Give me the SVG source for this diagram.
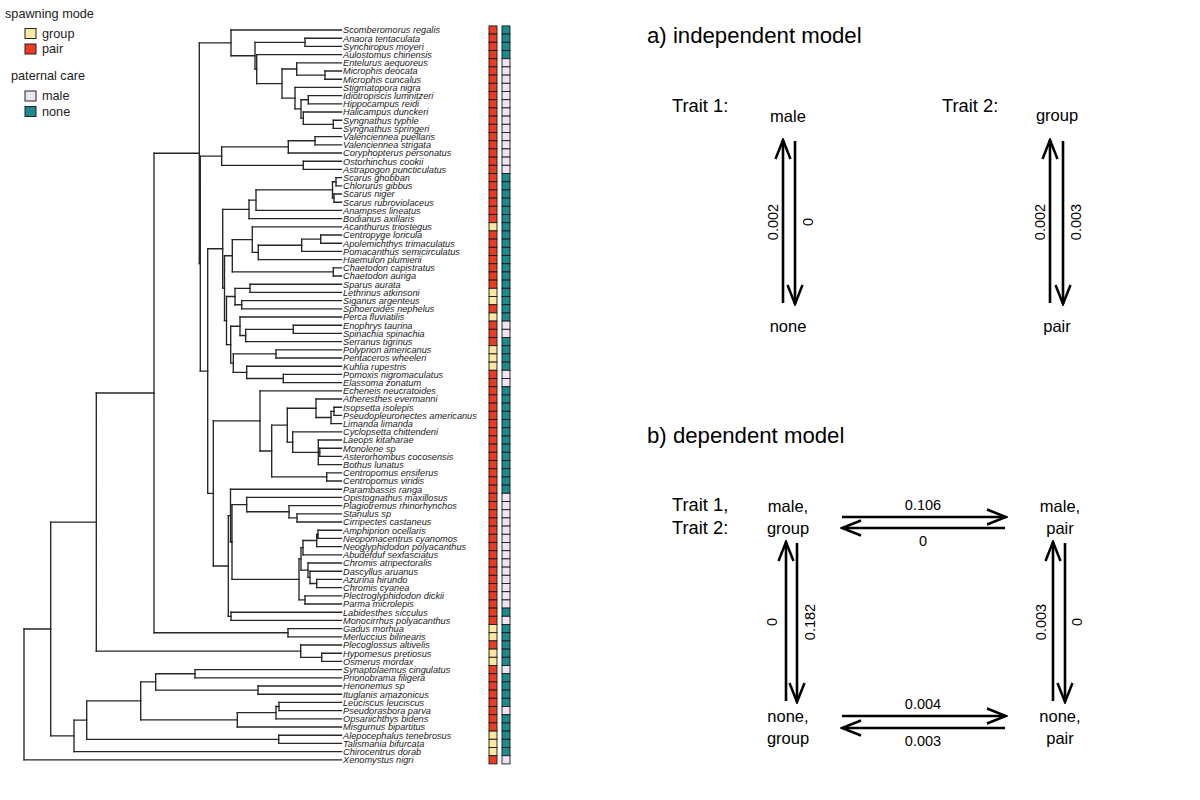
<svg xmlns="http://www.w3.org/2000/svg" width="1200" height="800" viewBox="0 0 1200 800">
<style>
.br{fill:none;stroke:#262626;stroke-width:1.35;stroke-linecap:square}
.sp{font-family:"Liberation Sans",Arial,sans-serif;font-style:italic;font-size:9.2px;fill:#1a1a1a}
.sq rect{stroke:#1a1a1a;stroke-width:0.9}
.p{fill:#EC3B22}.g{fill:#FBE7A1}.m{fill:#EEE4F2}.n{fill:#1D8A8E}
.lg{font-family:"Liberation Sans",Arial,sans-serif;font-size:12.7px;fill:#222}
.st{font-family:"Liberation Sans",Arial,sans-serif;font-size:16.5px;fill:#000;text-anchor:middle}
.tr{font-family:"Liberation Sans",Arial,sans-serif;font-size:18.3px;fill:#000}
.hd{font-family:"Liberation Sans",Arial,sans-serif;font-size:22.2px;fill:#000}
.nm{font-family:"Liberation Sans",Arial,sans-serif;font-size:14.5px;fill:#000;text-anchor:middle}
.ar{stroke:#000;stroke-width:2.6;fill:none;marker-end:url(#ah)}
</style>
<defs>
<marker id="ah" viewBox="-22 -10 24 20" refX="0" refY="0" markerWidth="24" markerHeight="20" markerUnits="userSpaceOnUse" orient="auto">
<path d="M-19,-7.5 L0,0 L-19,7.5" fill="none" stroke="#000" stroke-width="2.5"/>
</marker>
</defs>
<rect width="1200" height="800" fill="#fff"/>

<g id="legend">
<text class="lg" x="5" y="17.5">spawning mode</text>
<rect class="g" x="25" y="28.5" width="11" height="10" stroke="#222" stroke-width="1"/>
<text class="lg" x="42" y="37.5">group</text>
<rect class="p" x="25" y="44" width="11" height="10" stroke="#222" stroke-width="1"/>
<text class="lg" x="42" y="53">pair</text>
<text class="lg" x="11" y="79.5">paternal care</text>
<rect class="m" x="25" y="91" width="11" height="10" stroke="#222" stroke-width="1"/>
<text class="lg" x="42" y="100">male</text>
<rect class="n" x="25" y="106.5" width="11" height="10" stroke="#222" stroke-width="1"/>
<text class="lg" x="42" y="115.5">none</text>
</g>

<g id="tree-branches">
<path class="br" d="M231 30V55.7 M255 42.3V69.1 M305 38.2V46.4 M256.7 54.6V83.55 M282 68.95V98.15 M296.7 62.8V75.1 M325 71V79.2 M295 87.4V108.9 M301 99.7V118.15 M308.3 95.6V103.8 M303.3 112V124.3 M333.3 120.2V128.4 M221.7 146.85V165.3 M288.3 140.7V153 M315 136.6V144.8 M303.3 161.2V169.4 M249 200.15V218.6 M256 189.9V210.4 M332.5 181.7V198.1 M336 177.6V185.8 M334 194V202.2 M232.3 239.6V271.9 M252.3 226.8V252.43 M258.3 245.25V259.6 M301.7 239.1V251.4 M320.7 235V243.2 M333.3 267.8V276 M222.7 209.38V288.17 M224.5 255.75V320.59 M226.5 296.5V344.68 M235 288.3V304.7 M250 284.2V292.4 M241.7 300.6V308.8 M230.7 326.23V363.13 M240 317V335.45 M245.7 329.3V341.6 M293.3 325.2V333.4 M233.3 353.9V372.35 M276 349.8V358 M246.7 366.2V378.5 M283.3 374.4V382.6 M260 390.8V451.02 M271.7 425.14V476.9 M287.3 408.23V442.05 M316 399V417.45 M331 411.3V423.6 M334 407.2V415.4 M292.7 431.8V452.3 M318.3 440V464.6 M319.8 448.2V456.4 M326.7 472.8V481 M228.3 515.6V616.3 M230.5 489.2V541.99 M232 504.58V579.4 M246.7 497.4V511.75 M289 505.6V517.9 M297 513.8V522 M299 558.9V599.9 M301 547.63V570.18 M303 540.45V554.8 M316.7 534.3V546.6 M318 530.2V538.4 M308 563V577.35 M310 571.2V583.5 M316.7 579.4V587.6 M305 595.8V604 M231 612.2V620.4 M213.3 420.91V565.95 M207.7 248.78V493.43 M200.3 156.08V371.1 M199.3 42.85V263.59 M154 153.22V632.7 M288 628.6V636.8 M96.3 392.96V651.15 M300.7 645V657.3 M321.7 653.2V661.4 M50.7 522.06V735.84 M74 720.08V751.6 M86.7 700.86V739.3 M278.7 735.2V743.4 M140.7 681.9V719.83 M155.7 673.7V690.1 M195 669.6V677.8 M258 686V694.2 M237.3 712.65V727 M276 706.5V718.8 M279 702.4V710.6 M24 628.95V759.8"/>
<path class="br" d="M231 55.7H255 M255 42.3H305 M255 69.1H256.7 M256.7 83.55H282 M282 68.95H296.7 M282 98.15H295 M296.7 75.1H325 M295 108.9H301 M301 99.7H308.3 M301 118.15H303.3 M303.3 124.3H333.3 M221.7 146.85H288.3 M221.7 165.3H303.3 M288.3 140.7H315 M249 200.15H256 M256 189.9H332.5 M332.5 181.7H336 M332.5 198.1H334 M232.3 239.6H252.3 M232.3 271.9H333.3 M252.3 252.43H258.3 M258.3 245.25H301.7 M301.7 239.1H320.7 M222.7 209.38H249 M222.7 288.17H224.5 M224.5 255.75H232.3 M224.5 320.59H226.5 M226.5 296.5H235 M226.5 344.68H230.7 M235 288.3H250 M235 304.7H241.7 M230.7 326.23H240 M230.7 363.13H233.3 M240 335.45H245.7 M245.7 329.3H293.3 M233.3 353.9H276 M233.3 372.35H246.7 M246.7 378.5H283.3 M260 451.02H271.7 M271.7 425.14H287.3 M271.7 476.9H326.7 M287.3 408.23H316 M287.3 442.05H292.7 M316 417.45H331 M331 411.3H334 M292.7 452.3H319.8 M228.3 515.6H230.5 M228.3 616.3H231 M230.5 541.99H232 M232 504.58H246.7 M232 579.4H299 M246.7 511.75H289 M289 517.9H297 M299 558.9H301 M299 599.9H305 M301 547.63H303 M301 570.18H308 M303 540.45H316.7 M316.7 534.3H318 M308 577.35H310 M310 583.5H316.7 M213.3 420.91H260 M213.3 565.95H228.3 M207.7 248.78H222.7 M207.7 493.43H213.3 M200.3 156.08H221.7 M200.3 371.1H207.7 M199.3 42.85H231 M199.3 263.59H200.3 M154 153.22H199.3 M154 632.7H288 M96.3 392.96H154 M96.3 651.15H300.7 M300.7 657.3H321.7 M50.7 522.06H96.3 M50.7 735.84H74 M74 720.08H86.7 M86.7 700.86H140.7 M86.7 739.3H278.7 M140.7 681.9H155.7 M140.7 719.83H237.3 M155.7 673.7H195 M155.7 690.1H258 M237.3 712.65H276 M276 706.5H279 M24 628.95H50.7"/>
<path class="br" d="M231 30H341.5 M305 38.2H341.5 M305 46.4H341.5 M256.7 54.6H341.5 M296.7 62.8H341.5 M325 71H341.5 M325 79.2H341.5 M295 87.4H341.5 M308.3 95.6H341.5 M308.3 103.8H341.5 M303.3 112H341.5 M333.3 120.2H341.5 M333.3 128.4H341.5 M315 136.6H341.5 M315 144.8H341.5 M288.3 153H341.5 M303.3 161.2H341.5 M303.3 169.4H341.5 M336 177.6H341.5 M336 185.8H341.5 M334 194H341.5 M334 202.2H341.5 M256 210.4H341.5 M249 218.6H341.5 M252.3 226.8H341.5 M320.7 235H341.5 M320.7 243.2H341.5 M301.7 251.4H341.5 M258.3 259.6H341.5 M333.3 267.8H341.5 M333.3 276H341.5 M250 284.2H341.5 M250 292.4H341.5 M241.7 300.6H341.5 M241.7 308.8H341.5 M240 317H341.5 M293.3 325.2H341.5 M293.3 333.4H341.5 M245.7 341.6H341.5 M276 349.8H341.5 M276 358H341.5 M246.7 366.2H341.5 M283.3 374.4H341.5 M283.3 382.6H341.5 M260 390.8H341.5 M316 399H341.5 M334 407.2H341.5 M334 415.4H341.5 M331 423.6H341.5 M292.7 431.8H341.5 M318.3 440H341.5 M319.8 448.2H341.5 M319.8 456.4H341.5 M318.3 464.6H341.5 M326.7 472.8H341.5 M326.7 481H341.5 M230.5 489.2H341.5 M246.7 497.4H341.5 M289 505.6H341.5 M297 513.8H341.5 M297 522H341.5 M318 530.2H341.5 M318 538.4H341.5 M316.7 546.6H341.5 M303 554.8H341.5 M308 563H341.5 M310 571.2H341.5 M316.7 579.4H341.5 M316.7 587.6H341.5 M305 595.8H341.5 M305 604H341.5 M231 612.2H341.5 M231 620.4H341.5 M288 628.6H341.5 M288 636.8H341.5 M300.7 645H341.5 M321.7 653.2H341.5 M321.7 661.4H341.5 M195 669.6H341.5 M195 677.8H341.5 M258 686H341.5 M258 694.2H341.5 M279 702.4H341.5 M279 710.6H341.5 M276 718.8H341.5 M237.3 727H341.5 M278.7 735.2H341.5 M278.7 743.4H341.5 M74 751.6H341.5 M24 759.8H341.5"/>
</g>

<g id="tip-labels" class="sp">
<text x="343" y="33.3">Scomberomorus regalis</text>
<text x="343" y="41.5">Anaora tentaculata</text>
<text x="343" y="49.7">Synchiropus moyeri</text>
<text x="343" y="57.9">Aulostomus chinensis</text>
<text x="343" y="66.1">Entelurus aequoreus</text>
<text x="343" y="74.3">Microphis deocata</text>
<text x="343" y="82.5">Microphis cuncalus</text>
<text x="343" y="90.7">Stigmatopora nigra</text>
<text x="343" y="98.9">Idiotropiscis lumnitzeri</text>
<text x="343" y="107.1">Hippocampus reidi</text>
<text x="343" y="115.3">Halicampus dunckeri</text>
<text x="343" y="123.5">Syngnathus typhle</text>
<text x="343" y="131.7">Syngnathus springeri</text>
<text x="343" y="139.9">Valenciennea puellaris</text>
<text x="343" y="148.1">Valenciennea strigata</text>
<text x="343" y="156.3">Coryphopterus personatus</text>
<text x="343" y="164.5">Ostorhinchus cookii</text>
<text x="343" y="172.7">Astrapogon puncticulatus</text>
<text x="343" y="180.9">Scarus ghobban</text>
<text x="343" y="189.1">Chlorurus gibbus</text>
<text x="343" y="197.3">Scarus niger</text>
<text x="343" y="205.5">Scarus rubroviolaceus</text>
<text x="343" y="213.7">Anampses lineatus</text>
<text x="343" y="221.9">Bodianus axillaris</text>
<text x="343" y="230.1">Acanthurus triostegus</text>
<text x="343" y="238.3">Centropyge loricula</text>
<text x="343" y="246.5">Apolemichthys trimaculatus</text>
<text x="343" y="254.7">Pomacanthus semicirculatus</text>
<text x="343" y="262.9">Haemulon plumierii</text>
<text x="343" y="271.1">Chaetodon capistratus</text>
<text x="343" y="279.3">Chaetodon auriga</text>
<text x="343" y="287.5">Sparus aurata</text>
<text x="343" y="295.7">Lethrinus atkinsoni</text>
<text x="343" y="303.9">Siganus argenteus</text>
<text x="343" y="312.1">Sphoeroides nephelus</text>
<text x="343" y="320.3">Perca fluviatilis</text>
<text x="343" y="328.5">Enophrys taurina</text>
<text x="343" y="336.7">Spinachia spinachia</text>
<text x="343" y="344.9">Serranus tigrinus</text>
<text x="343" y="353.1">Polyprion americanus</text>
<text x="343" y="361.3">Pentaceros wheeleri</text>
<text x="343" y="369.5">Kuhlia rupestris</text>
<text x="343" y="377.7">Pomoxis nigromaculatus</text>
<text x="343" y="385.9">Elassoma zonatum</text>
<text x="343" y="394.1">Echeneis neucratoides</text>
<text x="343" y="402.3">Atheresthes evermanni</text>
<text x="343" y="410.5">Isopsetta isolepis</text>
<text x="343" y="418.7">Pseudopleuronectes americanus</text>
<text x="343" y="426.9">Limanda limanda</text>
<text x="343" y="435.1">Cyclopsetta chittendeni</text>
<text x="343" y="443.3">Laeops kitaharae</text>
<text x="343" y="451.5">Monolene sp</text>
<text x="343" y="459.7">Asterorhombus cocosensis</text>
<text x="343" y="467.9">Bothus lunatus</text>
<text x="343" y="476.1">Centropomus ensiferus</text>
<text x="343" y="484.3">Centropomus viridis</text>
<text x="343" y="492.5">Parambassis ranga</text>
<text x="343" y="500.7">Opistognathus maxillosus</text>
<text x="343" y="508.9">Plagiotremus rhinorhynchos</text>
<text x="343" y="517.1">Stanulus sp</text>
<text x="343" y="525.3">Cirripectes castaneus</text>
<text x="343" y="533.5">Amphiprion ocellaris</text>
<text x="343" y="541.7">Neopomacentrus cyanomos</text>
<text x="343" y="549.9">Neoglyphidodon polyacanthus</text>
<text x="343" y="558.1">Abudefduf sexfasciatus</text>
<text x="343" y="566.3">Chromis atripectoralis</text>
<text x="343" y="574.5">Dascyllus aruanus</text>
<text x="343" y="582.7">Azurina hirundo</text>
<text x="343" y="590.9">Chromis cyanea</text>
<text x="343" y="599.1">Plectroglyphidodon dickii</text>
<text x="343" y="607.3">Parma microlepis</text>
<text x="343" y="615.5">Labidesthes sicculus</text>
<text x="343" y="623.7">Monocirrhus polyacanthus</text>
<text x="343" y="631.9">Gadus morhua</text>
<text x="343" y="640.1">Merluccius bilinearis</text>
<text x="343" y="648.3">Plecoglossus altivelis</text>
<text x="343" y="656.5">Hypomesus pretiosus</text>
<text x="343" y="664.7">Osmerus mordax</text>
<text x="343" y="672.9">Synaptolaemus cingulatus</text>
<text x="343" y="681.1">Prionobrama filigera</text>
<text x="343" y="689.3">Henonemus sp</text>
<text x="343" y="697.5">Ituglanis amazonicus</text>
<text x="343" y="705.7">Leuciscus leuciscus</text>
<text x="343" y="713.9">Pseudorasbora parva</text>
<text x="343" y="722.1">Opsariichthys bidens</text>
<text x="343" y="730.3">Misgurnus bipartitus</text>
<text x="343" y="738.5">Alepocephalus tenebrosus</text>
<text x="343" y="746.7">Talismania bifurcata</text>
<text x="343" y="754.9">Chirocentrus dorab</text>
<text x="343" y="763.1">Xenomystus nigri</text>
</g>

<g id="spawning-mode-column" class="sq">
<rect class="p" x="489" y="25.9" width="8" height="8.2"/>
<rect class="p" x="489" y="34.1" width="8" height="8.2"/>
<rect class="p" x="489" y="42.3" width="8" height="8.2"/>
<rect class="p" x="489" y="50.5" width="8" height="8.2"/>
<rect class="p" x="489" y="58.7" width="8" height="8.2"/>
<rect class="p" x="489" y="66.9" width="8" height="8.2"/>
<rect class="p" x="489" y="75.1" width="8" height="8.2"/>
<rect class="p" x="489" y="83.3" width="8" height="8.2"/>
<rect class="p" x="489" y="91.5" width="8" height="8.2"/>
<rect class="p" x="489" y="99.7" width="8" height="8.2"/>
<rect class="p" x="489" y="107.9" width="8" height="8.2"/>
<rect class="p" x="489" y="116.1" width="8" height="8.2"/>
<rect class="p" x="489" y="124.3" width="8" height="8.2"/>
<rect class="p" x="489" y="132.5" width="8" height="8.2"/>
<rect class="p" x="489" y="140.7" width="8" height="8.2"/>
<rect class="p" x="489" y="148.9" width="8" height="8.2"/>
<rect class="p" x="489" y="157.1" width="8" height="8.2"/>
<rect class="p" x="489" y="165.3" width="8" height="8.2"/>
<rect class="p" x="489" y="173.5" width="8" height="8.2"/>
<rect class="p" x="489" y="181.7" width="8" height="8.2"/>
<rect class="p" x="489" y="189.9" width="8" height="8.2"/>
<rect class="p" x="489" y="198.1" width="8" height="8.2"/>
<rect class="p" x="489" y="206.3" width="8" height="8.2"/>
<rect class="p" x="489" y="214.5" width="8" height="8.2"/>
<rect class="g" x="489" y="222.7" width="8" height="8.2"/>
<rect class="p" x="489" y="230.9" width="8" height="8.2"/>
<rect class="p" x="489" y="239.1" width="8" height="8.2"/>
<rect class="p" x="489" y="247.3" width="8" height="8.2"/>
<rect class="p" x="489" y="255.5" width="8" height="8.2"/>
<rect class="p" x="489" y="263.7" width="8" height="8.2"/>
<rect class="p" x="489" y="271.9" width="8" height="8.2"/>
<rect class="p" x="489" y="280.1" width="8" height="8.2"/>
<rect class="g" x="489" y="288.3" width="8" height="8.2"/>
<rect class="g" x="489" y="296.5" width="8" height="8.2"/>
<rect class="p" x="489" y="304.7" width="8" height="8.2"/>
<rect class="g" x="489" y="312.9" width="8" height="8.2"/>
<rect class="p" x="489" y="321.1" width="8" height="8.2"/>
<rect class="p" x="489" y="329.3" width="8" height="8.2"/>
<rect class="p" x="489" y="337.5" width="8" height="8.2"/>
<rect class="g" x="489" y="345.7" width="8" height="8.2"/>
<rect class="g" x="489" y="353.9" width="8" height="8.2"/>
<rect class="g" x="489" y="362.1" width="8" height="8.2"/>
<rect class="p" x="489" y="370.3" width="8" height="8.2"/>
<rect class="p" x="489" y="378.5" width="8" height="8.2"/>
<rect class="p" x="489" y="386.7" width="8" height="8.2"/>
<rect class="p" x="489" y="394.9" width="8" height="8.2"/>
<rect class="p" x="489" y="403.1" width="8" height="8.2"/>
<rect class="p" x="489" y="411.3" width="8" height="8.2"/>
<rect class="p" x="489" y="419.5" width="8" height="8.2"/>
<rect class="p" x="489" y="427.7" width="8" height="8.2"/>
<rect class="p" x="489" y="435.9" width="8" height="8.2"/>
<rect class="p" x="489" y="444.1" width="8" height="8.2"/>
<rect class="p" x="489" y="452.3" width="8" height="8.2"/>
<rect class="p" x="489" y="460.5" width="8" height="8.2"/>
<rect class="p" x="489" y="468.7" width="8" height="8.2"/>
<rect class="p" x="489" y="476.9" width="8" height="8.2"/>
<rect class="p" x="489" y="485.1" width="8" height="8.2"/>
<rect class="p" x="489" y="493.3" width="8" height="8.2"/>
<rect class="p" x="489" y="501.5" width="8" height="8.2"/>
<rect class="p" x="489" y="509.7" width="8" height="8.2"/>
<rect class="p" x="489" y="517.9" width="8" height="8.2"/>
<rect class="p" x="489" y="526.1" width="8" height="8.2"/>
<rect class="p" x="489" y="534.3" width="8" height="8.2"/>
<rect class="p" x="489" y="542.5" width="8" height="8.2"/>
<rect class="p" x="489" y="550.7" width="8" height="8.2"/>
<rect class="p" x="489" y="558.9" width="8" height="8.2"/>
<rect class="p" x="489" y="567.1" width="8" height="8.2"/>
<rect class="p" x="489" y="575.3" width="8" height="8.2"/>
<rect class="p" x="489" y="583.5" width="8" height="8.2"/>
<rect class="p" x="489" y="591.7" width="8" height="8.2"/>
<rect class="p" x="489" y="599.9" width="8" height="8.2"/>
<rect class="p" x="489" y="608.1" width="8" height="8.2"/>
<rect class="p" x="489" y="616.3" width="8" height="8.2"/>
<rect class="g" x="489" y="624.5" width="8" height="8.2"/>
<rect class="g" x="489" y="632.7" width="8" height="8.2"/>
<rect class="p" x="489" y="640.9" width="8" height="8.2"/>
<rect class="g" x="489" y="649.1" width="8" height="8.2"/>
<rect class="g" x="489" y="657.3" width="8" height="8.2"/>
<rect class="p" x="489" y="665.5" width="8" height="8.2"/>
<rect class="p" x="489" y="673.7" width="8" height="8.2"/>
<rect class="p" x="489" y="681.9" width="8" height="8.2"/>
<rect class="p" x="489" y="690.1" width="8" height="8.2"/>
<rect class="p" x="489" y="698.3" width="8" height="8.2"/>
<rect class="p" x="489" y="706.5" width="8" height="8.2"/>
<rect class="p" x="489" y="714.7" width="8" height="8.2"/>
<rect class="p" x="489" y="722.9" width="8" height="8.2"/>
<rect class="g" x="489" y="731.1" width="8" height="8.2"/>
<rect class="g" x="489" y="739.3" width="8" height="8.2"/>
<rect class="g" x="489" y="747.5" width="8" height="8.2"/>
<rect class="p" x="489" y="755.7" width="8" height="8.2"/>
</g>

<g id="paternal-care-column" class="sq">
<rect class="n" x="502" y="25.9" width="8" height="8.2"/>
<rect class="n" x="502" y="34.1" width="8" height="8.2"/>
<rect class="n" x="502" y="42.3" width="8" height="8.2"/>
<rect class="n" x="502" y="50.5" width="8" height="8.2"/>
<rect class="m" x="502" y="58.7" width="8" height="8.2"/>
<rect class="m" x="502" y="66.9" width="8" height="8.2"/>
<rect class="m" x="502" y="75.1" width="8" height="8.2"/>
<rect class="m" x="502" y="83.3" width="8" height="8.2"/>
<rect class="m" x="502" y="91.5" width="8" height="8.2"/>
<rect class="m" x="502" y="99.7" width="8" height="8.2"/>
<rect class="m" x="502" y="107.9" width="8" height="8.2"/>
<rect class="m" x="502" y="116.1" width="8" height="8.2"/>
<rect class="m" x="502" y="124.3" width="8" height="8.2"/>
<rect class="m" x="502" y="132.5" width="8" height="8.2"/>
<rect class="m" x="502" y="140.7" width="8" height="8.2"/>
<rect class="m" x="502" y="148.9" width="8" height="8.2"/>
<rect class="m" x="502" y="157.1" width="8" height="8.2"/>
<rect class="m" x="502" y="165.3" width="8" height="8.2"/>
<rect class="n" x="502" y="173.5" width="8" height="8.2"/>
<rect class="n" x="502" y="181.7" width="8" height="8.2"/>
<rect class="n" x="502" y="189.9" width="8" height="8.2"/>
<rect class="n" x="502" y="198.1" width="8" height="8.2"/>
<rect class="n" x="502" y="206.3" width="8" height="8.2"/>
<rect class="n" x="502" y="214.5" width="8" height="8.2"/>
<rect class="n" x="502" y="222.7" width="8" height="8.2"/>
<rect class="n" x="502" y="230.9" width="8" height="8.2"/>
<rect class="n" x="502" y="239.1" width="8" height="8.2"/>
<rect class="n" x="502" y="247.3" width="8" height="8.2"/>
<rect class="n" x="502" y="255.5" width="8" height="8.2"/>
<rect class="n" x="502" y="263.7" width="8" height="8.2"/>
<rect class="n" x="502" y="271.9" width="8" height="8.2"/>
<rect class="n" x="502" y="280.1" width="8" height="8.2"/>
<rect class="n" x="502" y="288.3" width="8" height="8.2"/>
<rect class="n" x="502" y="296.5" width="8" height="8.2"/>
<rect class="n" x="502" y="304.7" width="8" height="8.2"/>
<rect class="n" x="502" y="312.9" width="8" height="8.2"/>
<rect class="m" x="502" y="321.1" width="8" height="8.2"/>
<rect class="m" x="502" y="329.3" width="8" height="8.2"/>
<rect class="n" x="502" y="337.5" width="8" height="8.2"/>
<rect class="n" x="502" y="345.7" width="8" height="8.2"/>
<rect class="n" x="502" y="353.9" width="8" height="8.2"/>
<rect class="n" x="502" y="362.1" width="8" height="8.2"/>
<rect class="m" x="502" y="370.3" width="8" height="8.2"/>
<rect class="m" x="502" y="378.5" width="8" height="8.2"/>
<rect class="n" x="502" y="386.7" width="8" height="8.2"/>
<rect class="n" x="502" y="394.9" width="8" height="8.2"/>
<rect class="n" x="502" y="403.1" width="8" height="8.2"/>
<rect class="n" x="502" y="411.3" width="8" height="8.2"/>
<rect class="n" x="502" y="419.5" width="8" height="8.2"/>
<rect class="n" x="502" y="427.7" width="8" height="8.2"/>
<rect class="n" x="502" y="435.9" width="8" height="8.2"/>
<rect class="n" x="502" y="444.1" width="8" height="8.2"/>
<rect class="n" x="502" y="452.3" width="8" height="8.2"/>
<rect class="n" x="502" y="460.5" width="8" height="8.2"/>
<rect class="n" x="502" y="468.7" width="8" height="8.2"/>
<rect class="n" x="502" y="476.9" width="8" height="8.2"/>
<rect class="n" x="502" y="485.1" width="8" height="8.2"/>
<rect class="m" x="502" y="493.3" width="8" height="8.2"/>
<rect class="m" x="502" y="501.5" width="8" height="8.2"/>
<rect class="m" x="502" y="509.7" width="8" height="8.2"/>
<rect class="m" x="502" y="517.9" width="8" height="8.2"/>
<rect class="m" x="502" y="526.1" width="8" height="8.2"/>
<rect class="m" x="502" y="534.3" width="8" height="8.2"/>
<rect class="m" x="502" y="542.5" width="8" height="8.2"/>
<rect class="m" x="502" y="550.7" width="8" height="8.2"/>
<rect class="m" x="502" y="558.9" width="8" height="8.2"/>
<rect class="m" x="502" y="567.1" width="8" height="8.2"/>
<rect class="m" x="502" y="575.3" width="8" height="8.2"/>
<rect class="m" x="502" y="583.5" width="8" height="8.2"/>
<rect class="m" x="502" y="591.7" width="8" height="8.2"/>
<rect class="m" x="502" y="599.9" width="8" height="8.2"/>
<rect class="n" x="502" y="608.1" width="8" height="8.2"/>
<rect class="m" x="502" y="616.3" width="8" height="8.2"/>
<rect class="n" x="502" y="624.5" width="8" height="8.2"/>
<rect class="n" x="502" y="632.7" width="8" height="8.2"/>
<rect class="n" x="502" y="640.9" width="8" height="8.2"/>
<rect class="n" x="502" y="649.1" width="8" height="8.2"/>
<rect class="n" x="502" y="657.3" width="8" height="8.2"/>
<rect class="m" x="502" y="665.5" width="8" height="8.2"/>
<rect class="n" x="502" y="673.7" width="8" height="8.2"/>
<rect class="n" x="502" y="681.9" width="8" height="8.2"/>
<rect class="n" x="502" y="690.1" width="8" height="8.2"/>
<rect class="n" x="502" y="698.3" width="8" height="8.2"/>
<rect class="m" x="502" y="706.5" width="8" height="8.2"/>
<rect class="n" x="502" y="714.7" width="8" height="8.2"/>
<rect class="n" x="502" y="722.9" width="8" height="8.2"/>
<rect class="n" x="502" y="731.1" width="8" height="8.2"/>
<rect class="n" x="502" y="739.3" width="8" height="8.2"/>
<rect class="n" x="502" y="747.5" width="8" height="8.2"/>
<rect class="m" x="502" y="755.7" width="8" height="8.2"/>
</g>

<g id="panel-a">
<text class="hd" x="647" y="43">a) independent model</text>
<text class="tr" x="672" y="112">Trait 1:</text>
<text class="tr" x="942" y="112">Trait 2:</text>
<g id="a-male"><text class="st" x="788" y="122">male</text></g>
<g id="a-none"><text class="st" x="788" y="332">none</text></g>
<g id="a-group"><text class="st" x="1057" y="121">group</text></g>
<g id="a-pair"><text class="st" x="1057" y="332">pair</text></g>
</g>

<g id="panel-b">
<text class="hd" x="647" y="443">b) dependent model</text>
<text class="tr" x="672" y="511">Trait 1,</text>
<text class="tr" x="672" y="534">Trait 2:</text>
<g id="b-male-group"><text class="st" x="788" y="512">male,</text><text class="st" x="788" y="534">group</text></g>
<g id="b-male-pair"><text class="st" x="1060" y="512">male,</text><text class="st" x="1060" y="534">pair</text></g>
<g id="b-none-group"><text class="st" x="788" y="722">none,</text><text class="st" x="788" y="744">group</text></g>
<g id="b-none-pair"><text class="st" x="1060" y="722">none,</text><text class="st" x="1060" y="744">pair</text></g>
</g>

<g id="connectors">
<path class="ar" d="M783 303V140"/>
<path class="ar" d="M795 141V304"/>
<path class="ar" d="M1050 303V140"/>
<path class="ar" d="M1063 141V304"/>
<path class="ar" d="M842 517H1006"/>
<path class="ar" d="M1005 528H842"/>
<path class="ar" d="M842 716H1006"/>
<path class="ar" d="M1005 728H842"/>
<path class="ar" d="M786 701V542"/>
<path class="ar" d="M797 543V702"/>
<path class="ar" d="M1053 701V542"/>
<path class="ar" d="M1065 543V702"/>
<text class="nm" transform="translate(778,222) rotate(-90)">0.002</text>
<text class="nm" transform="translate(813,222) rotate(-90)">0</text>
<text class="nm" transform="translate(1045,222) rotate(-90)">0.002</text>
<text class="nm" transform="translate(1081,222) rotate(-90)">0.003</text>
<text class="nm" x="923" y="510">0.106</text>
<text class="nm" x="923" y="546">0</text>
<text class="nm" x="923" y="709">0.004</text>
<text class="nm" x="923" y="746">0.003</text>
<text class="nm" transform="translate(777,622) rotate(-90)">0</text>
<text class="nm" transform="translate(815,622) rotate(-90)">0.182</text>
<text class="nm" transform="translate(1046,622) rotate(-90)">0.003</text>
<text class="nm" transform="translate(1082,622) rotate(-90)">0</text>
</g>
</svg>
